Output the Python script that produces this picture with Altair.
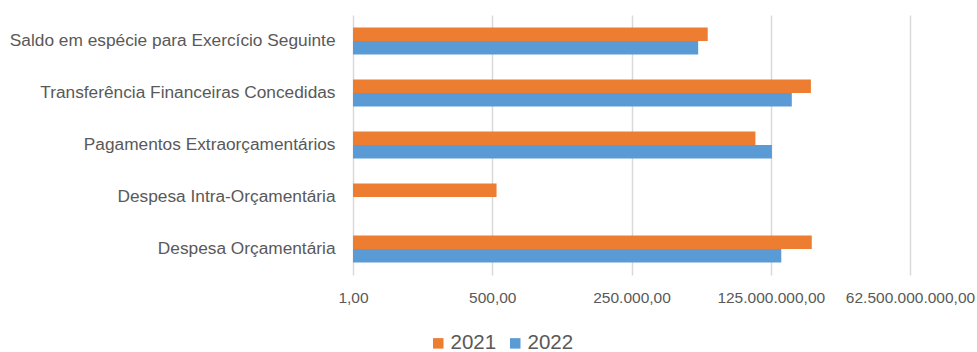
import altair as alt
import pandas as pd

categories = [
    "Saldo em espécie para Exercício Seguinte",
    "Transferência Financeiras Concedidas",
    "Pagamentos Extraorçamentários",
    "Despesa Intra-Orçamentária",
    "Despesa Orçamentária",
]
years = ["2021", "2022"]
values_2021 = [7.5e6, 7.5e8, 6.3e7, 606, 7.8e8]
values_2022 = [4.9e6, 3.2e8, 1.32e8, None, 2.0e8]
tick_values = [1, 500, 250000, 125000000, 62500000000]
tick_labels = ["1,00", "500,00", "250.000,00", "125.000.000,00", "62.500.000.000,00"]
colors = ["#ED7D31", "#5B9BD5"]

rows = []
for c, a, b in zip(categories, values_2021, values_2022):
    if a is not None:
        rows.append({"cat": c, "year": "2021", "value": a, "base": 1})
    if b is not None:
        rows.append({"cat": c, "year": "2022", "value": b, "base": 1})
df = pd.DataFrame(rows)

expr = "''"
for v, l in reversed(list(zip(tick_values, tick_labels))):
    expr = f"datum.value == {v} ? '{l}' : ({expr})"

font = "Liberation Sans"
txt = "#595959"

chart = alt.Chart(df).mark_bar().encode(
    y=alt.Y("cat:N", sort=categories, title=None,
            scale=alt.Scale(paddingInner=0.48, paddingOuter=0.24),
            axis=alt.Axis(ticks=False, domain=False, labelPadding=18, labelFontSize=17.3,
                          labelColor=txt, labelFont=font, labelLimit=400)),
    yOffset=alt.YOffset("year:N", sort=years),
    x=alt.X("value:Q", title=None,
            scale=alt.Scale(type="log", base=500, domain=[1, 62500000000]),
            axis=alt.Axis(values=tick_values, labelExpr=expr, grid=True, gridColor="#D9D9D9",
                          gridWidth=1.5, ticks=False, domain=False, labelPadding=15,
                          labelFontSize=15.5, labelColor=txt, labelFont=font, labelFlush=False)),
    x2="base:Q",
    color=alt.Color("year:N", sort=years,
                    scale=alt.Scale(domain=years, range=colors),
                    legend=alt.Legend(title=None, orient="none", direction="horizontal",
                                      legendX=75, legendY=318, symbolType="square",
                                      symbolSize=110, labelFontSize=20.5, labelColor=txt,
                                      labelFont=font, columnPadding=8, labelOffset=2,
                                      symbolStrokeWidth=0)),
).properties(
    width=557, height=260,
    autosize=alt.AutoSizeParams(type="none"),
    padding={"left": 353, "top": 15, "right": 67, "bottom": 77},
).configure_view(stroke=None)

chart.save("out.html", embed_options={"renderer": "svg", "actions": False})
